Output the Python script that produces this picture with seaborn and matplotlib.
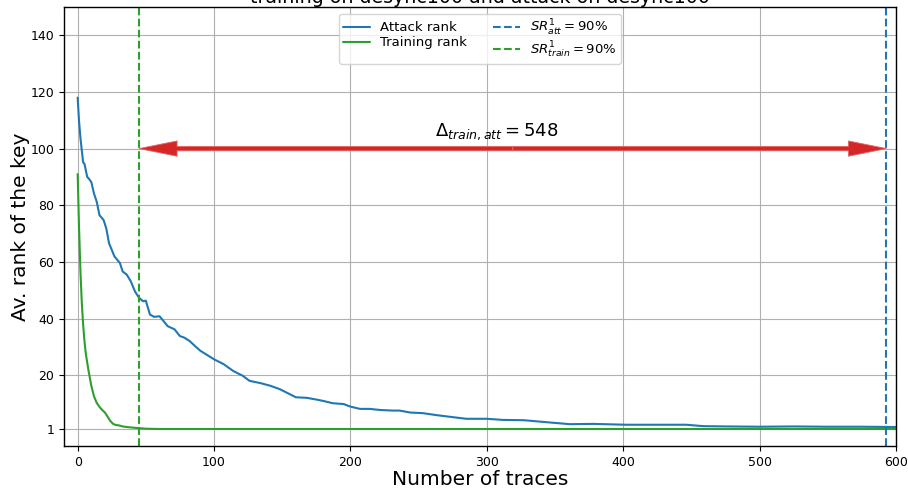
import matplotlib
matplotlib.use("Agg")
import matplotlib.pyplot as plt
from matplotlib.patches import FancyArrowPatch
import seaborn as sns
import pandas as pd

# Average key rank of the attack set vs number of traces
attack_x = [0, 1, 2, 3, 4, 5, 6, 7, 8, 10, 12, 14, 16, 19, 21, 23, 27, 31, 33,
            36, 39, 42, 45, 48, 50, 53, 56, 60, 63, 66, 71, 75, 78, 82, 86, 90,
            94, 100, 107, 114, 121, 126, 134, 141, 148, 153, 160, 168, 175, 181,
            187, 195, 200, 207, 214, 222, 231, 236, 244, 253, 263, 273, 285, 300,
            312, 327, 339, 351, 361, 378, 402, 427, 446, 459, 476, 500, 525, 549,
            574, 600]
attack_rank = [118.0, 109.8, 104.0, 99.5, 95.2, 94.6, 92.3, 90.0, 89.5, 88.2, 84.1,
               81.2, 76.5, 74.8, 71.8, 66.6, 61.9, 59.6, 56.6, 55.5, 53.1, 49.6,
               47.3, 46.1, 46.3, 41.4, 40.6, 40.8, 39.1, 37.3, 36.2, 33.8, 33.3,
               32.1, 30.3, 28.6, 27.4, 25.6, 23.9, 21.5, 19.8, 18.0, 17.2, 16.3,
               15.1, 13.9, 12.2, 12.0, 11.4, 10.8, 10.1, 9.8, 8.9, 8.1, 8.1, 7.7,
               7.5, 7.5, 6.8, 6.6, 5.9, 5.3, 4.6, 4.6, 4.2, 4.1, 3.6, 3.1, 2.7,
               2.8, 2.5, 2.5, 2.5, 2.0, 1.9, 1.8, 1.9, 1.8, 1.8, 1.7]

# Average key rank of the training set vs number of traces
train_x = [0, 1, 2, 3, 4, 5, 6, 7, 8, 10, 12, 14, 16, 18, 20, 22, 24, 26, 28,
           30, 33, 36, 40, 45, 50, 60, 100, 200, 300, 400, 500, 600]
train_rank = [91.0, 72.4, 57.2, 46.0, 38.0, 32.0, 27.5, 24.5, 21.5, 16.3, 12.5,
              10.2, 8.8, 7.7, 6.8, 5.3, 3.8, 2.8, 2.4, 2.3, 1.9, 1.7, 1.5, 1.3,
              1.1, 1.0, 1.0, 1.0, 1.0, 1.0, 1.0, 1.0]

# Number of traces needed to reach a 90% success rate
sr_train = 45
sr_att = 593

x_ticks = [0, 100, 200, 300, 400, 500, 600]
y_ticks = [1, 20, 40, 60, 80, 100, 120, 140]

sns.set_theme(style="ticks", rc={
    "axes.edgecolor": "black",
    "axes.linewidth": 1.0,
    "grid.color": "#b0b0b0",
    "grid.linewidth": 0.8,
    "xtick.color": "black",
    "ytick.color": "black",
    "text.color": "black",
    "axes.labelcolor": "black",
})
plt.rcParams["font.family"] = ["DejaVu Sans"]

blue = "#1f77b4"
green = "#2ca02c"
red = "#d62728"

fig = plt.figure(figsize=(9.08, 4.88), dpi=100)
ax = fig.add_axes([0.0705, 0.0861, 0.9163, 0.8996])

df_att = pd.DataFrame({"traces": attack_x, "rank": attack_rank})
df_tr = pd.DataFrame({"traces": train_x, "rank": train_rank})

sns.lineplot(data=df_att, x="traces", y="rank", ax=ax, color=blue, lw=1.5,
             label="Attack rank", estimator=None)
sns.lineplot(data=df_tr, x="traces", y="rank", ax=ax, color=green, lw=1.5,
             label="Training rank", estimator=None)
ax.axvline(sr_att, color=blue, ls="--", lw=1.5,
           label=r"$SR^1_{att} = 90\%$")
ax.axvline(sr_train, color=green, ls="--", lw=1.5,
           label=r"$SR^1_{train} = 90\%$")

# Double-headed arrow spanning the gap, drawn as two halves from the middle
mid = (sr_train + sr_att) / 2
for end in (sr_train, sr_att):
    arrow = FancyArrowPatch((mid, 100), (end, 100),
                            arrowstyle="simple,head_length=2.74,head_width=1.1,tail_width=0.32",
                            mutation_scale=10, facecolor=red, edgecolor="#e06868",
                            lw=0.6, shrinkA=0, shrinkB=0, zorder=4)
    ax.add_patch(arrow)
ax.text(307, 102.2, r"$\Delta_{train,att} = %d$" % (sr_att - sr_train),
        ha="center", va="bottom", fontsize=13)

ax.set_xlim(-10, 600)
ax.set_ylim(-5, 150)
ax.set_xticks(x_ticks)
ax.set_yticks(y_ticks)
ax.grid(True)
for s in ax.spines.values():
    s.set_visible(True)
ax.tick_params(labelsize=9, direction="out", length=3.5, width=0.8)

ax.set_xlabel("Number of traces", fontsize=14.5, labelpad=1)
ax.set_ylabel("Av. rank of the key", fontsize=14.5, labelpad=0.5)
ax.set_title("training on desync100 and attack on desync100", fontsize=13.7, pad=2.5)

ax.legend(loc="upper center", ncol=2, fontsize=9.5, framealpha=0.8,
          edgecolor="#cccccc", fancybox=True, labelspacing=0.15,
          borderpad=0.3, columnspacing=2.0)

fig.savefig("out.png", dpi=100)
